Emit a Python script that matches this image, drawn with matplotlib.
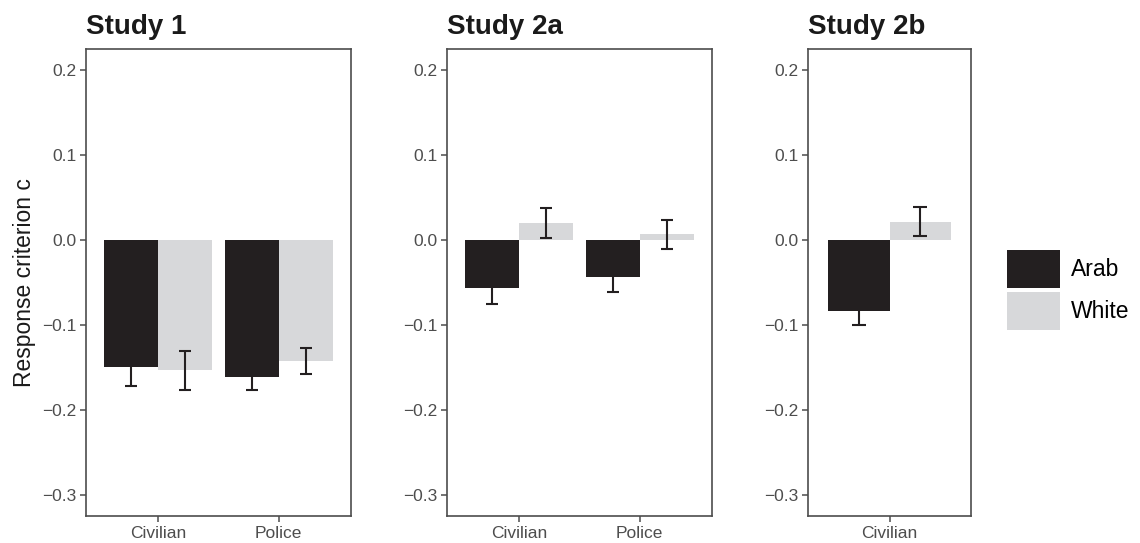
import matplotlib.pyplot as plt
import matplotlib.patches as mpatches

plt.rcParams['font.family'] = ['Liberation Sans', 'DejaVu Sans']

# data
studies = ["Study 1", "Study 2a", "Study 2b"]
conditions = [["Civilian", "Police"], ["Civilian", "Police"], ["Civilian"]]
arab_mean = [[-0.149, -0.161], [-0.057, -0.044], [-0.084]]
arab_se = [[0.023, 0.015], [0.018, 0.017], [0.016]]
white_mean = [[-0.153, -0.142], [0.020, 0.0065], [0.0215]]
white_se = [[0.023, 0.0155], [0.0175, 0.017], [0.017]]
groups = ["Arab", "White"]
colors = {"Arab": "#231f20", "White": "#d7d8da"}
yticks = [0.2, 0.1, 0.0, -0.1, -0.2, -0.3]

W, H = 1140, 543
fig = plt.figure(figsize=(W / 100, H / 100), dpi=100)

# panel boxes in pixels: left, right
boxes = [(86, 351), (447, 712), (808, 971)]
top, bottom = 49, 516

frame_col = "#4d4d4d"
bar_w = 0.45
cap_w = 0.1

for i, study in enumerate(studies):
    l, r = boxes[i]
    ax = fig.add_axes([l / W, (H - bottom) / H, (r - l) / W, (bottom - top) / H])
    xs = list(range(1, len(conditions[i]) + 1))
    for g, means, ses, off in [("Arab", arab_mean[i], arab_se[i], -bar_w / 2),
                               ("White", white_mean[i], white_se[i], bar_w / 2)]:
        pos = [x + off for x in xs]
        ax.bar(pos, means, width=bar_w, color=colors[g], linewidth=0, zorder=2)
        lo = [m - s for m, s in zip(means, ses)]
        hi = [m + s for m, s in zip(means, ses)]
        ax.vlines(pos, lo, hi, color="#231f20", lw=1.5, zorder=3)
        ax.hlines(lo, [p - cap_w / 2 for p in pos], [p + cap_w / 2 for p in pos],
                  color="#231f20", lw=1.5, zorder=3)
        ax.hlines(hi, [p - cap_w / 2 for p in pos], [p + cap_w / 2 for p in pos],
                  color="#231f20", lw=1.5, zorder=3)
    ax.set_xlim(0.4, len(xs) + 0.6)
    ax.set_ylim(-0.3247, 0.2247)
    ax.set_xticks(xs)
    ax.set_xticklabels(conditions[i])
    ax.set_yticks(yticks)
    ax.set_yticklabels([f"{v:.1f}".replace("-", "\u2212") for v in yticks])
    ax.tick_params(colors=frame_col, labelcolor="#4d4d4d", labelsize=12.5,
                   length=4, width=1.1, pad=3)
    for s in ax.spines.values():
        s.set_color(frame_col)
        s.set_linewidth(1.2)
    ax.set_title(study, loc="left", fontsize=20, fontweight="bold",
                 color="#1a1a1a", pad=11)
    if i == 0:
        ax.set_ylabel("Response criterion c", fontsize=16.5, color="#1a1a1a",
                      labelpad=4)

handles = [mpatches.Patch(facecolor=colors[g], edgecolor="none", label=g) for g in groups]
fig.legend(handles=handles, loc="center left", bbox_to_anchor=(998 / W, (H - 290) / H),
           frameon=False, fontsize=16.5, handlelength=2.3, handleheight=2.2,
           handletextpad=0.5, labelspacing=0.15, borderaxespad=0)

fig.savefig("out.png", dpi=100)
